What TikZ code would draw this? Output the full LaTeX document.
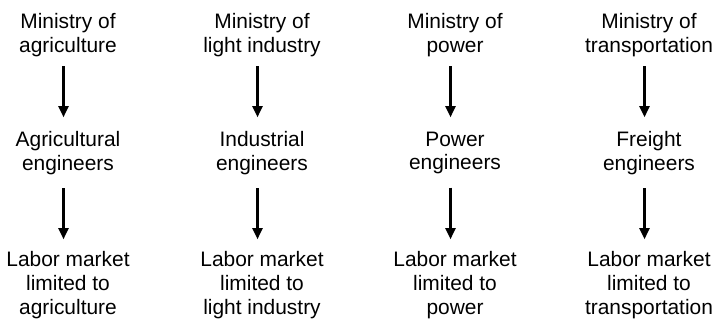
\documentclass[tikz,border=0pt]{standalone}
\usepackage{fontspec}
\setmainfont{Liberation Sans}
\usetikzlibrary{arrows.meta}
\begin{document}
\begin{tikzpicture}[x=1bp, y=-1bp,
  label text/.style={inner sep=0pt, outer sep=0pt, anchor=north, align=center,
    font={\fontsize{21}{23.8}\selectfont}},
  flow/.style={line width=2.3bp, -{Triangle[length=11bp,width=10bp]}},
  upper/.style={flow, shorten <=9.5bp, shorten >=14.5bp},
  lower/.style={flow, shorten <=13.5bp, shorten >=12.5bp}]
  \useasboundingbox (0,0) rectangle (720,322);

  % Column 1: agriculture
  \node[label text] (t1) at (68,13.7)  {Ministry of\\agriculture};
  \node[label text] (m1) at (68,131.7) {Agricultural\\engineers};
  \node[label text] (b1) at (68,251.7) {Labor market\\limited to\\agriculture};

  % Column 2: light industry
  \node[label text] (t2) at (262,13.7)  {Ministry of\\light industry};
  \node[label text] (m2) at (262,131.7) {Industrial\\engineers};
  \node[label text] (b2) at (262,251.7) {Labor market\\limited to\\light industry};

  % Column 3: power
  \node[label text] (t3) at (455,13.7)  {Ministry of\\power};
  \node[label text] (m3) at (455,131.7) {Power\\engineers};
  \node[label text] (b3) at (455,251.7) {Labor market\\limited to\\power};

  % Column 4: transportation
  \node[label text] (t4) at (649,13.7)  {Ministry of\\transportation};
  \node[label text] (m4) at (649,131.7) {Freight\\engineers};
  \node[label text] (b4) at (649,251.7) {Labor market\\limited to\\transportation};

  % Arrows down each column
  \foreach \c in {1,2,3,4} {
    \draw[upper] ([xshift=-4.5bp]t\c.south) -- ([xshift=-4.5bp]t\c.south |- m\c.north);
    \draw[lower] ([xshift=-4.5bp]m\c.south) -- ([xshift=-4.5bp]m\c.south |- b\c.north);
  }
\end{tikzpicture}
\end{document}
